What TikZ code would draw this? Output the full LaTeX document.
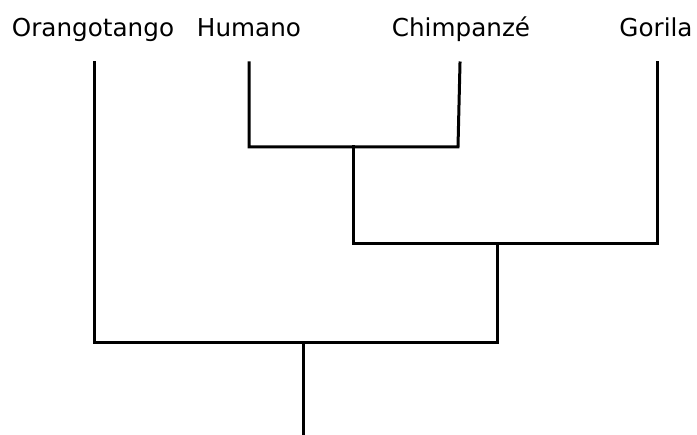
\documentclass[tikz,border=0pt]{standalone}
\usepackage{fontspec}
\setmainfont{DejaVu Sans}
\begin{document}
\begin{tikzpicture}[x=0.75pt,y=-0.75pt,
  branch/.style={draw=black,line width=2.25pt,line join=miter,line cap=rect},
  taxon/.style={anchor=base,inner sep=0pt,font=\fontsize{18.5}{22}\selectfont}]
\useasboundingbox (0,0) rectangle (697,435);
% labels
\node[taxon] (orang) at (93,37) {Orangotango};
\node[taxon] (hum) at (249,37) {Humano};
\node[taxon] (chimp) at (461,37) {Chimpanzé};
\node[taxon] (gor) at (656,37) {Gorila};
% coordinates
\coordinate (oT) at (94,63);
\coordinate (hT) at (249,63);
\coordinate (cT) at (460,63);
\coordinate (gT) at (657,63);
\coordinate (hcL) at (249,147);
\coordinate (hcR) at (458,147);
\coordinate (hcM) at (353,147);
\coordinate (hcgL) at (353,243);
\coordinate (hcgR) at (657,243);
\coordinate (hcgM) at (497,243);
\coordinate (allL) at (94,342);
\coordinate (allR) at (497,342);
\coordinate (allM) at (303,342);
\coordinate (root) at (303,437);
% branches
\draw[branch] (hT) -- (hcL) -- (hcR) -- (cT);
\draw[branch] (hcM) -- (hcgL) -- (hcgR) -- (gT);
\draw[branch] (hcgM) -- (allR) -- (allL) -- (oT);
\draw[branch,line cap=butt] (allM) -- (root);
\end{tikzpicture}
\end{document}
